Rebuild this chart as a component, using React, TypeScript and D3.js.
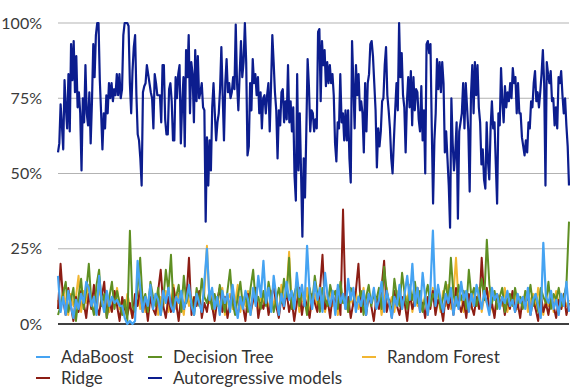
import React from "react";
import { scaleLinear, line } from "d3";

const yTicks = [0, 25, 50, 75, 100];

// Autoregressive models (left to right)
const autoregressive = [
  57, 60, 73, 66, 58, 81, 72, 65, 83, 64, 93, 81, 94, 77, 89, 72, 77, 70, 51, 75,
  67, 86, 70, 66, 77, 60, 74, 93, 82, 96, 100, 100, 81, 70, 58, 70, 65, 76, 70, 80,
  75, 80, 74, 78, 76, 83, 76, 83, 75, 78, 96, 100, 100, 100, 99, 80, 70, 84, 92, 96,
  76, 63, 61, 55, 46, 77, 79, 80, 86, 83, 80, 77, 75, 65, 83, 80, 76, 76,
  76, 67, 86, 86, 68, 63, 63, 78, 80, 74, 61, 61, 82, 75, 83, 86, 60, 73, 82, 59,
  91, 82, 96, 70, 87, 83, 67, 91, 74, 89, 75, 77, 80, 72, 71, 34, 62, 46, 61, 51,
  72, 80, 70, 61, 67, 70, 78, 92, 76, 61, 80, 88, 77, 80, 75, 77, 82, 78, 99.5, 80,
  71, 83, 94, 82, 87, 100, 87, 56, 59, 80, 71, 88, 80, 83, 76,
  82, 70, 77, 65, 75, 76, 70, 76, 80, 64, 79, 96, 87, 77, 71, 55, 71, 66, 77, 78,
  67, 74, 68, 86, 67, 74, 64, 72, 49, 41, 83, 51, 70, 50, 29, 55, 42, 64, 88, 79,
  64, 71, 70, 64, 68, 65, 97, 98, 74, 94, 86, 91, 79, 87, 80, 86, 80, 83, 76, 60,
  54, 67, 65, 83, 67, 70, 61, 71, 61, 71, 55, 47, 94, 80, 65, 86, 76, 83, 71,
  74, 70, 57, 80, 64, 80, 83, 93, 94, 89, 80, 71, 52, 65, 59, 64, 74, 75, 86, 92,
  76, 71, 65, 55, 50, 61, 71, 80, 71, 100, 82, 90, 76, 72, 57, 74, 82, 72, 84, 66,
  82, 71, 78, 77, 68, 64, 79, 61, 71, 50, 93, 94, 90, 93, 65, 40, 61, 70, 88, 78,
  87, 77, 87, 80, 57, 64, 55, 46, 32, 75, 60, 51, 57, 67, 35, 64, 67, 70, 80, 65,
  80, 72, 64, 44, 76, 86, 70, 87, 76, 86, 72, 67, 53, 58, 48, 45, 67, 54, 48, 65,
  74, 65, 67, 53, 40, 70, 66, 85, 74, 67, 79, 72, 77, 74, 80, 75, 85, 80, 82, 70,
  80, 70, 70, 62, 59, 56, 61, 57, 67, 65, 74, 72, 80, 84, 74, 77, 72, 77, 83, 91,
  80, 46, 87, 83, 80, 84, 74, 75, 66, 72, 65, 82, 80, 84, 76, 70, 75, 66, 59, 46,
];

const adaBoost = [
  16, 4, 9, 3, 11, 6, 2, 8, 5, 10, 7, 14, 12, 6, 9, 3, 16, 8, 4, 11,
  6, 9, 7, 8, 6, 6, 2, 0, 1, 0, 1, 21, 12, 4, 9, 6, 13, 5, 10, 8,
  3, 11, 7, 12, 6, 4, 9, 7, 11, 5, 8, 13, 6, 3, 10, 7, 4, 14, 25, 8,
  12, 5, 9, 3, 11, 7, 10, 4, 13, 6, 2, 9, 5, 11, 8, 3, 12, 6, 16, 9,
  21, 7, 12, 4, 16, 9, 3, 10, 6, 14, 8, 11, 5, 17, 9, 13, 6, 26, 10, 5,
  14, 8, 12, 4, 17, 9, 6, 11, 3, 13, 7, 10, 5, 15, 8, 12, 4, 9, 6, 11,
  3, 10, 7, 12, 5, 8, 14, 4, 11, 7, 2, 9, 6, 13, 5, 10, 16, 8, 20, 6,
  12, 4, 17, 9, 3, 11, 31, 6, 13, 8, 4, 10, 7, 12, 3, 9, 5, 14, 8, 11,
  4, 10, 6, 13, 9, 5, 11, 7, 3, 12, 8, 10, 5, 9, 7, 11, 6, 8, 4, 10,
  7, 9, 5, 12, 3, 8, 10, 6, 2, 27, 9, 7, 11, 5, 8, 3, 10, 6, 14, 4,
];

const decisionTree = [
  3, 6, 10, 14, 4, 8, 12, 1, 9, 15, 5, 11, 20, 7, 3, 13, 18, 6, 10, 2,
  9, 14, 5, 11, 7, 3, 8, 1, 31, 6, 4, 12, 22, 7, 10, 4, 14, 9, 6, 12,
  3, 8, 18, 11, 23, 5, 9, 13, 4, 16, 7, 11, 8, 3, 12, 6, 15, 9, 7, 11,
  5, 10, 6, 13, 8, 4, 11, 18, 7, 3, 9, 14, 6, 10, 4, 12, 18, 7, 9, 5,
  11, 6, 14, 9, 4, 8, 12, 7, 15, 9, 22, 5, 10, 13, 6, 11, 8, 3, 12, 7,
  16, 10, 4, 12, 8, 6, 13, 9, 11, 5, 14, 7, 9, 4, 12, 10, 6, 8, 11, 3,
  9, 13, 6, 10, 8, 12, 5, 19, 11, 7, 4, 15, 9, 6, 17, 10, 5, 12, 8, 14,
  7, 11, 4, 9, 13, 6, 10, 8, 12, 5, 9, 14, 7, 22, 10, 6, 13, 8, 11, 5,
  18, 9, 12, 6, 10, 15, 8, 28, 13, 7, 11, 5, 9, 12, 4, 8, 10, 6, 12, 7,
  9, 5, 11, 8, 13, 6, 10, 4, 12, 9, 7, 14, 5, 10, 8, 12, 6, 9, 13, 34,
];

const ridge = [
  5, 20, 8, 3, 12, 6, 1, 9, 4, 11, 7, 2, 10, 5, 13, 6, 3, 9, 14, 2,
  8, 4, 11, 6, 1, 9, 5, 3, 7, 2, 10, 6, 12, 4, 8, 1, 9, 5, 3, 11,
  18, 6, 2, 9, 4, 12, 7, 1, 10, 5, 8, 22, 3, 9, 6, 11, 2, 7, 4, 10,
  6, 1, 8, 12, 4, 9, 2, 7, 11, 5, 3, 9, 6, 1, 10, 4, 8, 12, 2, 7,
  5, 10, 3, 8, 13, 6, 2, 9, 5, 11, 4, 8, 1, 7, 12, 3, 9, 6, 2, 10,
  7, 4, 11, 23, 5, 8, 2, 10, 6, 12, 3, 38, 5, 9, 2, 7, 11, 20, 4, 8,
  3, 10, 6, 1, 9, 5, 12, 21, 4, 8, 2, 11, 6, 3, 9, 7, 1, 10, 5, 8,
  12, 4, 7, 2, 9, 5, 11, 3, 8, 6, 1, 10, 5, 9, 3, 12, 7, 4, 8, 2,
  10, 6, 3, 9, 5, 22, 8, 12, 4, 7, 2, 10, 6, 9, 3, 8, 5, 11, 4, 7,
  2, 9, 6, 11, 3, 8, 5, 1, 10, 4, 7, 3, 9, 6, 2, 8, 5, 10, 3, 7,
];

const randomForest = [
  8, 5, 12, 7, 3, 10, 6, 9, 16, 4, 11, 7, 13, 5, 9, 3, 12, 8, 6, 10,
  4, 9, 7, 12, 5, 8, 3, 10, 6, 2, 8, 11, 5, 9, 4, 7, 12, 6, 10, 3,
  9, 6, 11, 4, 8, 13, 5, 10, 7, 3, 12, 6, 9, 4, 11, 8, 5, 10, 26, 7,
  11, 4, 9, 6, 12, 3, 8, 10, 5, 7, 13, 4, 9, 6, 11, 3, 8, 12, 5, 9,
  7, 10, 4, 11, 6, 9, 3, 13, 7, 10, 24, 5, 8, 11, 4, 9, 6, 12, 3, 8,
  10, 5, 13, 7, 4, 9, 11, 6, 8, 3, 12, 7, 10, 4, 9, 6, 11, 5, 8, 12,
  4, 9, 7, 11, 5, 10, 3, 8, 12, 6, 9, 4, 11, 7, 5, 10, 8, 13, 4, 9,
  6, 11, 5, 10, 3, 8, 12, 7, 9, 4, 11, 6, 13, 5, 10, 22, 7, 9, 4, 11,
  8, 5, 10, 6, 12, 4, 9, 7, 11, 5, 3, 10, 8, 6, 12, 4, 9, 7, 10, 5,
  9, 6, 11, 4, 8, 10, 5, 12, 7, 3, 9, 6, 10, 4, 11, 7, 5, 9, 6, 8,
];

// drawing order: first ones end up underneath
const series = [
  { name: "Random Forest", values: randomForest, color: "#f2b632", width: 2 },
  { name: "Ridge", values: ridge, color: "#8c1d14", width: 2 },
  { name: "Decision Tree", values: decisionTree, color: "#5f8f23", width: 2 },
  { name: "AdaBoost", values: adaBoost, color: "#45a3f2", width: 2.2 },
  { name: "Autoregressive models", values: autoregressive, color: "#0c1d8e", width: 2.2 },
];

const legendRows = [
  ["AdaBoost", "Decision Tree", "Random Forest"],
  ["Ridge", "Autoregressive models"],
];
const legendCols = [36, 148, 362];

const W = 570;
const H = 389;
const left = 58;
const right = 569;
const top = 23;
const bottom = 324;

export default function App() {
  const y = scaleLinear().domain([0, 100]).range([bottom, top]);

  return (
    <svg
      width={W}
      height={H}
      style={{ position: "absolute", left: 0, top: 0, fontFamily: "Lato, sans-serif" }}
    >
      <rect width={W} height={H} fill="#fff" />
      {yTicks.map((t) => (
        <g key={t}>
          <line
            x1={left}
            x2={right}
            y1={y(t)}
            y2={y(t)}
            stroke={t === 0 ? "#000" : "#b3b3b3"}
            strokeWidth={t === 0 ? 1.5 : 1}
          />
          <text
            x={42}
            y={y(t)}
            dy="0.35em"
            textAnchor="end"
            fontSize={16}
            fill="#3a3a3a"
          >
            {t}%
          </text>
        </g>
      ))}
      {series.map((s) => {
        const x = scaleLinear().domain([0, s.values.length - 1]).range([left, right]);
        const path = line<number>()
          .x((_, i) => x(i))
          .y((d) => y(Math.min(d, 100)));
        return (
          <path
            key={s.name}
            d={path(s.values) || ""}
            fill="none"
            stroke={s.color}
            strokeWidth={s.width}
            strokeLinejoin="round"
          />
        );
      })}
      {legendRows.map((row, r) =>
        row.map((name, c) => {
          const s = series.find((d) => d.name === name)!;
          const ly = 357 + r * 21;
          const lx = name === "Random Forest" ? legendCols[2] : legendCols[c];
          return (
            <g key={name}>
              <line x1={lx} x2={lx + 14} y1={ly} y2={ly} stroke={s.color} strokeWidth={2} />
              <text x={lx + 25} y={ly} dy="0.35em" fontSize={17} fill="#333">
                {name}
              </text>
            </g>
          );
        })
      )}
    </svg>
  );
}
